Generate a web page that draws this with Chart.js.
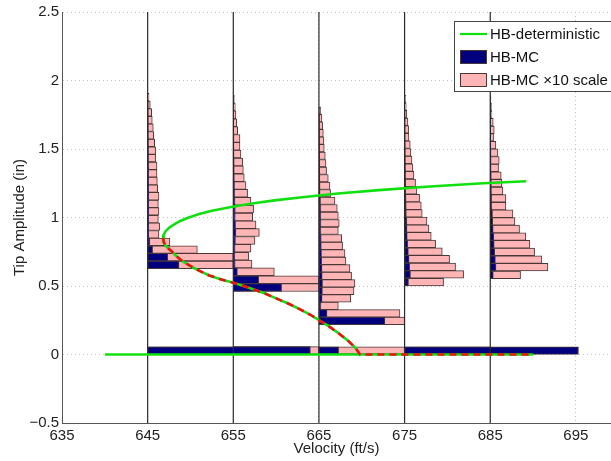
<!DOCTYPE html>
<html><head><meta charset="utf-8">
<script src="https://cdn.jsdelivr.net/npm/chart.js@4/dist/chart.umd.min.js"></script>
<style>html,body{margin:0;padding:0;background:#fff;overflow:hidden}</style>
</head><body>
<canvas id="c" width="611" height="461"></canvas>
<script>
// ---------- data ----------
const xTicks = [635, 645, 655, 665, 675, 685, 695];
const yTicks = [-0.5, 0, 0.5, 1, 1.5, 2, 2.5];
const xMin = 635, xMax = 699.1;
const seriesNames = ['HB-deterministic', 'HB-MC', 'HB-MC \u00d710 scale'];

// histogram baseline velocities
const positions = [645, 655, 665, 675, 685];
// lowest LCO bin edge and bin width of each histogram (amplitude, in)
const binBottom = [0.627, 0.46, 0.218, 0.501, 0.554];
const binWidth = [0.0556, 0.0573, 0.0548, 0.0557, 0.0557];
// bin holding the zero-amplitude (stable) samples
const zeroCenter = 0.029;
const zeroBin = [19.0, 9.0, 2.3, 20.3, 0];
// HB-MC histogram values, bottom bin to top bin
const mc645 = [3.66, 2.35, 0.58, 0.26, 0.132, 0.14, 0.125, 0.132, 0.125, 0.132, 0.117, 0.113, 0.109, 0.109, 0.093, 0.093, 0.082, 0.07, 0.066, 0.054, 0.047, 0.031, 0.016];
const mc655 = [5.64, 2.96, 0.479, 0.218, 0.179, 0.206, 0.253, 0.304, 0.265, 0.226, 0.237, 0.206, 0.167, 0.148, 0.128, 0.117, 0.109, 0.089, 0.078, 0.078, 0.051, 0.039, 0.031, 0.023, 0.012];
const mc665 = [7.7, 0.946, 0.226, 0.37, 0.409, 0.42, 0.381, 0.362, 0.315, 0.304, 0.276, 0.265, 0.226, 0.237, 0.226, 0.214, 0.187, 0.136, 0.128, 0.109, 0.089, 0.082, 0.074, 0.062, 0.058, 0.051, 0.043, 0.035, 0.019];
const mc675 = [0.455, 0.689, 0.595, 0.525, 0.44, 0.362, 0.311, 0.284, 0.261, 0.206, 0.195, 0.175, 0.144, 0.128, 0.109, 0.097, 0.086, 0.074, 0.066, 0.051, 0.047, 0.039, 0.027, 0.019, 0.012];
const mc685 = [0.354, 0.673, 0.603, 0.518, 0.463, 0.416, 0.342, 0.288, 0.265, 0.183, 0.183, 0.148, 0.136, 0.128, 0.097, 0.105, 0.09, 0.066, 0.039, 0.047, 0.035, 0.02, 0.015, 0.008];
const mcValues = [mc645, mc655, mc665, mc675, mc685];
const scaleFactor = 10;

// HB-deterministic curve
const eqV = [640, 690];            // equilibrium branch (amplitude 0)
const eqA = [0, 0];
const hopfV = 669.8;               // equilibrium becomes unstable here
const stableV = [646.8, 646.87, 647.1, 647.5, 648.1, 648.8, 649.8, 651.0, 652.5, 654.6, 657.0, 659.8, 663.3, 667.2, 672.0, 677.5, 684.2, 689.2];
const stableA = [0.852, 0.875, 0.90, 0.925, 0.95, 0.975, 1.0, 1.025, 1.05, 1.075, 1.10, 1.125, 1.15, 1.175, 1.20, 1.225, 1.25, 1.265];
const unstableV = [646.8, 646.86, 647.03, 647.4, 647.85, 648.3, 649.2, 650.3, 651.3, 652.2, 653.5, 654.9, 656.2, 657.4, 658.7, 660.0, 661.4, 662.8, 664.0, 665.1, 666.3, 667.4, 668.4, 669.2, 669.8];
const unstableA = [0.852, 0.825, 0.80, 0.775, 0.75, 0.72, 0.675, 0.635, 0.603, 0.577, 0.55, 0.525, 0.50, 0.475, 0.445, 0.41, 0.372, 0.33, 0.29, 0.247, 0.20, 0.15, 0.10, 0.053, 0];

// ---------- styles ----------
const GREEN = '#10e010', RED = '#f01010', BLUE = '#00007f', PINK = '#ffb5b5', EDGE = '#4a3838';
const FONT = '"Liberation Sans", Arial, Helvetica, sans-serif';
const PAD_TOP = 10, X_AXIS_H = 38, Y_AXIS_W = 62;

const pts = (vx, vy) => vx.map((v, i) => ({x: v, y: vy[i]}));

// bar thickness = one bin height, measured on the y scale
function binThickness(w) {
  return (ctx) => {
    const s = ctx.chart.scales.y;
    let t = s ? Math.abs(s.getPixelForValue(w) - s.getPixelForValue(0)) : NaN;
    if (!isFinite(t) || t <= 0) {
      t = w * (ctx.chart.height - PAD_TOP - X_AXIS_H) / (yTicks[yTicks.length - 1] - yTicks[0]);
    }
    return t;
  };
}

const datasets = [];
// unstable parts, red dashed
datasets.push({type: 'line', label: 'unstable', data: pts(unstableV, unstableA).concat([{x: hopfV, y: 0}, {x: eqV[1], y: eqA[1]}]),
  borderColor: RED, borderWidth: 2.6, borderDash: [7, 5], pointRadius: 0, tension: 0, order: 0});
// green deterministic curve
datasets.push({type: 'line', label: seriesNames[0], data: pts(stableV, stableA).reverse().concat(pts(unstableV, unstableA).slice(1)),
  borderColor: GREEN, borderWidth: 2.6, pointRadius: 0, tension: 0, order: 1});
datasets.push({type: 'line', label: seriesNames[0] + ' eq', data: pts(eqV, eqA),
  borderColor: GREEN, borderWidth: 2.6, pointRadius: 0, tension: 0, order: 1});
// histogram baselines
positions.forEach((p) => {
  datasets.push({type: 'line', label: 'base' + p, data: [{x: p, y: yTicks[0]}, {x: p, y: yTicks[yTicks.length - 1]}],
    borderColor: '#2a2a2a', borderWidth: 1.2, pointRadius: 0, order: 2});
});
// histograms
positions.forEach((p, i) => {
  const gap = i < positions.length - 1 ? positions[i + 1] - p : positions[i] - positions[i - 1];
  const blue = [], pink = [];
  if (zeroBin[i] > 0) {
    blue.push({y: zeroCenter, x: [p, p + zeroBin[i]]});
    pink.push({y: zeroCenter, x: [p, p + Math.min(scaleFactor * zeroBin[i], gap)]});
  }
  mcValues[i].forEach((v, k) => {
    const c = binBottom[i] + (k + 0.5) * binWidth[i];
    blue.push({y: c, x: [p, p + v]});
    pink.push({y: c, x: [p, p + Math.min(scaleFactor * v, gap)]});
  });
  const common = {type: 'bar', indexAxis: 'y', grouped: false, xAxisID: 'x', yAxisID: 'y',
    barThickness: binThickness(binWidth[i]), borderWidth: 1, borderColor: EDGE, borderSkipped: false};
  datasets.push(Object.assign({label: seriesNames[2] + ' ' + p, data: pink, backgroundColor: PINK, order: 100 - 2 * i}, common));
  datasets.push(Object.assign({label: seriesNames[1] + ' ' + p, data: blue, backgroundColor: BLUE, order: 99 - 2 * i}, common));
});

// ---------- legend drawn in the axes corner ----------
const boxLegend = {
  id: 'boxLegend',
  afterDraw(chart) {
    const {ctx, chartArea} = chart;
    const x0 = chartArea.right - 157, y0 = chartArea.top + 9;
    ctx.save();
    ctx.fillStyle = '#fff';
    ctx.fillRect(x0, y0, 175, 70);
    ctx.strokeStyle = '#444'; ctx.lineWidth = 1;
    ctx.strokeRect(x0 + 0.5, y0 + 0.5, 175, 70);
    ctx.font = '15px ' + FONT; ctx.fillStyle = '#111'; ctx.textBaseline = 'middle'; ctx.textAlign = 'left';
    const rows = [y0 + 13, y0 + 36, y0 + 59];
    ctx.strokeStyle = GREEN; ctx.lineWidth = 2.2;
    ctx.beginPath(); ctx.moveTo(x0 + 6, rows[0]); ctx.lineTo(x0 + 33, rows[0]); ctx.stroke();
    ctx.fillText(seriesNames[0], x0 + 36, rows[0] + 1);
    [[BLUE, rows[1]], [PINK, rows[2]]].forEach(([col, ry], j) => {
      ctx.fillStyle = col; ctx.fillRect(x0 + 6, ry - 7, 27, 14);
      ctx.strokeStyle = EDGE; ctx.lineWidth = 1; ctx.strokeRect(x0 + 6.5, ry - 6.5, 26, 13);
      ctx.fillStyle = '#111'; ctx.fillText(seriesNames[j + 1], x0 + 36, ry + 1);
    });
    ctx.restore();
  }
};

const tickFont = {family: FONT, size: 15};
const fmt = (v) => (v < 0 ? '\u2212' + Math.abs(v) : String(v));

new Chart(document.getElementById('c'), {
  type: 'line',
  data: {datasets},
  options: {
    responsive: false, animation: false, devicePixelRatio: 1, events: [],
    layout: {padding: {top: PAD_TOP, right: 0, left: 0, bottom: 0}},
    plugins: {legend: {display: false}, tooltip: {enabled: false}},
    scales: {
      x: {type: 'linear', position: 'bottom', min: xMin, max: xMax, offset: false,
        afterBuildTicks: (s) => { s.ticks = xTicks.map(v => ({value: v})); },
        afterFit: (s) => { s.height = X_AXIS_H; },
        ticks: {font: tickFont, color: '#222', padding: 4, maxRotation: 0, autoSkip: false, callback: fmt},
        grid: {color: '#c4c4c4', lineWidth: 1, drawTicks: false, offset: false},
        border: {display: true, color: '#555', width: 1, dash: [1, 3]},
        title: {display: true, text: 'Velocity (ft/s)', font: tickFont, color: '#222', padding: {top: 0, bottom: 3}}},
      y: {type: 'linear', position: 'left', min: yTicks[0], max: yTicks[yTicks.length - 1], offset: false,
        afterBuildTicks: (s) => { s.ticks = yTicks.map(v => ({value: v})); },
        afterFit: (s) => { s.width = Y_AXIS_W; },
        ticks: {font: tickFont, color: '#222', padding: 3, autoSkip: false, callback: fmt},
        grid: {color: '#c4c4c4', lineWidth: 1, drawTicks: false, offset: false},
        border: {display: true, color: '#555', width: 1, dash: [1, 3]},
        title: {display: true, text: 'Tip Amplitude (in)', font: tickFont, color: '#222', padding: {top: 11, bottom: 0}}}
    }
  },
  plugins: [boxLegend]
});
</script>
</body></html>
